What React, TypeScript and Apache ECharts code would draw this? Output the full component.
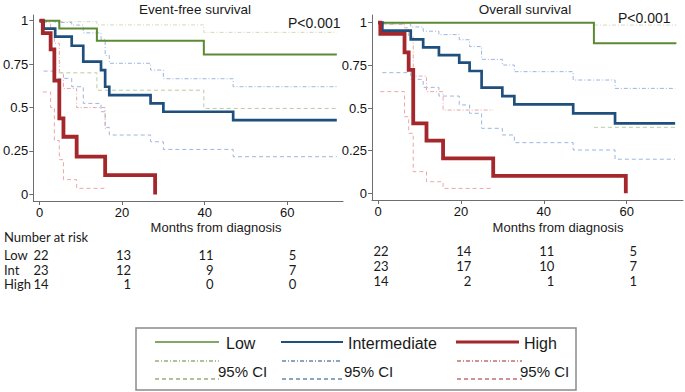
import React, { useEffect, useRef } from "react";
import * as echarts from "echarts";

// ---------- data ----------
const xTicks = [0, 20, 40, 60];
const yTicks = [0, 0.25, 0.5, 0.75, 1];
const riskTimes = [0, 20, 40, 60];
const riskGroups = ["Low", "Int", "High"];

// Event-free survival
const efsLow = [[0, 1], [4.8, 0.955], [13.9, 0.885], [39.8, 0.806], [72, 0.806]];
const efsLowUp = [[4.8, 0.995], [13.9, 0.976], [39.8, 0.933], [72, 0.933]];
const efsLowLo = [[4.8, 0.70], [13.9, 0.60], [39.8, 0.495], [72, 0.495]];

const efsInt = [[0, 1], [1, 0.955], [3.8, 0.908], [7.8, 0.856], [10.6, 0.764], [14.9, 0.716], [15.9, 0.62], [16.9, 0.572], [26.9, 0.524], [30, 0.476], [46.9, 0.428], [72, 0.428]];
const efsIntUp = [[1, 0.995], [3.8, 0.99], [7.8, 0.975], [10.6, 0.93], [14.9, 0.893], [15.9, 0.80], [16.9, 0.755], [26.9, 0.716], [30, 0.666], [46.9, 0.62], [72, 0.62]];
const efsIntLo = [[1, 0.71], [3.8, 0.668], [7.8, 0.62], [10.6, 0.524], [14.9, 0.476], [15.9, 0.386], [16.9, 0.342], [26.9, 0.303], [30, 0.259], [46.9, 0.217], [72, 0.217]];

const efsHigh = [[0, 1], [0.8, 0.929], [2.7, 0.835], [3.6, 0.655], [4.8, 0.438], [5.8, 0.332], [9, 0.217], [15.9, 0.111], [28, 0]];
const efsHighUp = [[0.8, 0.99], [2.7, 0.96], [3.6, 0.87], [4.8, 0.70], [5.8, 0.61], [9, 0.50], [15.9, 0.38], [16.2, 0.38]];
const efsHighLo = [[0.8, 0.59], [2.7, 0.50], [3.6, 0.31], [4.8, 0.20], [5.8, 0.085], [9, 0.035], [16.2, 0.035]];

// Overall survival
const osLow = [[0, 1], [52.1, 0.879], [72, 0.879]];
const osLowUp = [[52.1, 0.986], [72, 0.986]];
const osLowLo = [[52.1, 0.387], [72, 0.387]];

const osInt = [[0, 1], [1.05, 0.953], [7.9, 0.902], [10.9, 0.855], [14.7, 0.81], [19.6, 0.766], [22.1, 0.717], [25, 0.619], [30, 0.57], [32.9, 0.521], [47.1, 0.469], [57.2, 0.41], [71.7, 0.41]];
const osIntUp = [[1.05, 0.993], [7.9, 0.975], [10.9, 0.95], [14.7, 0.93], [19.6, 0.90], [22.1, 0.86], [25, 0.785], [30, 0.752], [32.9, 0.713], [47.1, 0.664], [57.2, 0.615], [71.7, 0.615]];
const osIntLo = [[1.05, 0.707], [7.9, 0.668], [10.9, 0.621], [14.7, 0.57], [19.6, 0.518], [22.1, 0.469], [25, 0.381], [30, 0.342], [32.9, 0.297], [47.1, 0.254], [57.2, 0.2], [71.7, 0.2]];

const osHigh = [[0, 1], [0.56, 0.934], [6.4, 0.826], [7.4, 0.723], [8.5, 0.41], [11.7, 0.309], [15.7, 0.205], [27.8, 0.102], [59.8, 0]];
const osHighUp = [[0.56, 0.99], [6.4, 0.97], [7.4, 0.92], [8.5, 0.687], [11.7, 0.596], [15.7, 0.488], [27.8, 0.488]];
const osHighLo = [[0.56, 0.596], [6.4, 0.449], [7.4, 0.352], [8.5, 0.127], [11.7, 0.068], [15.7, 0.029], [27.8, 0.029]];

// Number at risk
const efsRiskLow = [22, 13, 11, 5];
const efsRiskInt = [23, 12, 9, 7];
const efsRiskHigh = [14, 1, 0, 0];
const osRiskLow = [22, 14, 11, 5];
const osRiskInt = [23, 17, 10, 7];
const osRiskHigh = [14, 2, 1, 1];

// ---------- styles ----------
const ARIAL = "'Liberation Sans', Arial, sans-serif";
const CALIBRI = "Lato, 'Liberation Sans', sans-serif";
const GREEN = "#5b8a32";
const BLUE = "#1f4f7d";
const RED = "#a3272b";
const GREEN_L1 = "#cfdcbf";
const GREEN_L2 = "#b9cb9f";
const BLUE_L = "#9cb6dc";
const RED_L = "#eba7a8";
const DASHDOT = [4, 2, 1, 2];
const DASH = [4, 3];

function mainLine(data: number[][], color: string, width: number, idx: number) {
  return {
    type: "line", xAxisIndex: idx, yAxisIndex: idx, data, step: "end",
    showSymbol: false, symbol: "none", z: 5,
    lineStyle: { color, width, cap: "butt", join: "miter" },
  };
}
function ciLine(data: number[][], color: string, dash: number[], idx: number) {
  return {
    type: "line", xAxisIndex: idx, yAxisIndex: idx, data, step: "end",
    showSymbol: false, symbol: "none", z: 3,
    lineStyle: { color, width: 1, type: dash },
  };
}

function xAxisCfg(idx: number, min: number, max: number) {
  return {
    gridIndex: idx, type: "value", min, max,
    axisLine: { show: true, onZero: false, lineStyle: { color: "#6e6e6e", width: 1 } },
    axisTick: { show: true, customValues: xTicks, length: 4, lineStyle: { color: "#6e6e6e" } },
    axisLabel: { customValues: xTicks, margin: 5, fontSize: 13, color: "#111", fontFamily: ARIAL },
    splitLine: { show: false },
  };
}
function yAxisCfg(idx: number, min: number, max: number) {
  return {
    gridIndex: idx, type: "value", min, max,
    axisLine: { show: true, onZero: false, lineStyle: { color: "#6e6e6e", width: 1 } },
    axisTick: { show: true, customValues: yTicks, length: 4, lineStyle: { color: "#6e6e6e" } },
    axisLabel: { customValues: yTicks, margin: 5, fontSize: 13, color: "#111", fontFamily: ARIAL },
    splitLine: { show: false },
  };
}

export default function App() {
  const ref = useRef<HTMLDivElement>(null);
  useEffect(() => {
    if (!ref.current) return;
    const chart = echarts.init(ref.current, undefined, { renderer: "svg" });
    const option: any = {
      animation: false,
      backgroundColor: "#ffffff",
      grid: [
        { left: 33, top: 15, width: 310, height: 186 },
        { left: 372, top: 15, width: 311, height: 185 },
      ],
      xAxis: [xAxisCfg(0, -1.5, 73.5), xAxisCfg(1, -1.45, 73.6)],
      yAxis: [yAxisCfg(0, -0.038, 1.033), yAxisCfg(1, -0.039, 1.045)],
      series: [
        ciLine(efsLowUp, GREEN_L1, DASHDOT, 0),
        ciLine(efsLowLo, GREEN_L2, DASH, 0),
        ciLine(efsIntUp, BLUE_L, DASHDOT, 0),
        ciLine(efsIntLo, BLUE_L, DASH, 0),
        ciLine(efsHighUp, RED_L, DASHDOT, 0),
        ciLine(efsHighLo, RED_L, DASH, 0),
        mainLine(efsLow, GREEN, 2, 0),
        mainLine(efsInt, BLUE, 2.7, 0),
        mainLine(efsHigh, RED, 3.8, 0),
        ciLine(osLowUp, GREEN_L1, DASHDOT, 1),
        ciLine(osLowLo, GREEN_L2, DASH, 1),
        ciLine(osIntUp, BLUE_L, DASHDOT, 1),
        ciLine(osIntLo, BLUE_L, DASH, 1),
        ciLine(osHighUp, RED_L, DASHDOT, 1),
        ciLine(osHighLo, RED_L, DASH, 1),
        mainLine(osLow, GREEN, 2, 1),
        mainLine(osInt, BLUE, 2.7, 1),
        mainLine(osHigh, RED, 3.8, 1),
      ],
    };
    chart.setOption(option);

    const g: any[] = [];
    const txt = (text: string, x: number, y: number, size: number, font: string, align = "left") =>
      g.push({ type: "text", x, y, style: { text, fontSize: size, fontFamily: font, fill: "#1a1a1a", align, verticalAlign: "middle" } });

    txt("Event-free survival", 195, 9, 13.5, ARIAL, "center");
    txt("Overall survival", 525, 9, 13.5, ARIAL, "center");
    txt("P<0.001", 288, 23, 14, ARIAL);
    txt("P<0.001", 618, 18, 14, ARIAL);
    txt("Months from diagnosis", 216, 227, 13, ARIAL, "center");
    txt("Months from diagnosis", 558, 227, 13, ARIAL, "center");

    // number at risk
    txt("Number at risk", 4, 237, 13, CALIBRI);
    const leftRows = [efsRiskLow, efsRiskInt, efsRiskHigh];
    const rightRows = [osRiskLow, osRiskInt, osRiskHigh];
    const leftY = [255, 269.5, 284];
    const rightY = [251, 266, 281];
    riskGroups.forEach((name, r) => {
      txt(name, 4, leftY[r], 13, CALIBRI);
      riskTimes.forEach((t, c) => {
        const px = chart.convertToPixel({ xAxisIndex: 0 }, t) as number;
        txt(String(leftRows[r][c]), px + 9, leftY[r], 13, CALIBRI, "right");
        const px2 = chart.convertToPixel({ xAxisIndex: 1 }, t) as number;
        txt(String(rightRows[r][c]), px2 + 10.5, rightY[r], 13, CALIBRI, "right");
      });
    });

    // legend box
    g.push({ type: "rect", shape: { x: 136, y: 328, width: 440, height: 62 }, style: { fill: "none", stroke: "#8a8a8a", lineWidth: 1.5 } });
    const leg = [
      { label: "Low", color: GREEN, w: 1.5, x1: 155, x2: 219, tx: 226, cx1: 155, cx2: 219, ctx: 218 },
      { label: "Intermediate", color: BLUE, w: 2, x1: 281, x2: 343, tx: 348, cx1: 282, cx2: 342, ctx: 344 },
      { label: "High", color: RED, w: 3, x1: 456, x2: 519, tx: 524, cx1: 457, cx2: 522, ctx: 520 },
    ];
    leg.forEach((l) => {
      g.push({ type: "line", shape: { x1: l.x1, y1: 342, x2: l.x2, y2: 342 }, style: { stroke: l.color, lineWidth: l.w } });
      txt(l.label, l.tx, 343, 16, ARIAL);
      g.push({ type: "line", shape: { x1: l.cx1, y1: 361, x2: l.cx2, y2: 361 }, style: { stroke: l.color, lineWidth: 1.2, lineDash: DASHDOT } });
      g.push({ type: "line", shape: { x1: l.cx1, y1: 379, x2: l.cx2, y2: 379 }, style: { stroke: l.color, lineWidth: 1.2, lineDash: DASH } });
      txt("95% CI", l.ctx, 371, 15, ARIAL);
    });

    chart.setOption({ graphic: g });
    return () => chart.dispose();
  }, []);
  return <div ref={ref} style={{ position: "fixed", left: 0, top: 0, width: 685, height: 392, background: "#fff" }} />;
}
